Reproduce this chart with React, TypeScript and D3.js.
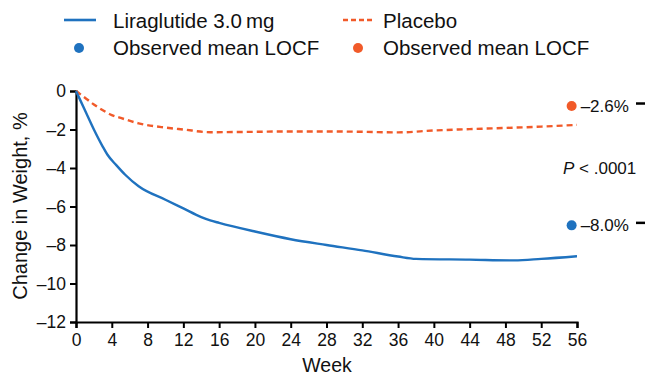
import React, { useEffect, useRef } from "react";
import * as d3 from "d3";

// values (weeks vs % change)
const liraWeeks = [0, 1, 2, 3, 3.5, 4.5, 5.5, 7, 10, 12, 14, 15, 16, 20, 24, 28, 32, 36, 38, 44, 49, 52, 56];
const liraValues = [0, -1.0, -2.0, -2.9, -3.3, -3.85, -4.35, -4.95, -5.65, -6.1, -6.55, -6.72, -6.85, -7.3, -7.7, -8.0, -8.28, -8.6, -8.72, -8.76, -8.8, -8.72, -8.58];
const placeboWeeks = [0, 1, 2, 3, 4, 5, 7, 10, 12, 15, 20, 24, 28, 32, 36, 40, 44, 48, 52, 56];
const placeboValues = [0, -0.35, -0.7, -1.0, -1.25, -1.4, -1.68, -1.9, -2.0, -2.14, -2.12, -2.1, -2.1, -2.12, -2.15, -2.05, -1.98, -1.92, -1.85, -1.76];

const xTicks = [0, 4, 8, 12, 16, 20, 24, 28, 32, 36, 40, 44, 48, 52, 56];
const yTicks = [0, -2, -4, -6, -8, -10, -12];

// observed mean LOCF markers (week, plotted value, label)
const observed = [
  { name: "placebo", week: 55.4, value: -0.78, label: "–2.6%" },
  { name: "lira", week: 55.4, value: -6.98, label: "–8.0%" },
];

const BLUE = "#1f72bf";
const ORANGE = "#f15a29";
const FONT = "'Liberation Sans', Arial, Helvetica, sans-serif";

const Chart = () => {
  const svgRef = useRef<SVGSVGElement>(null);

  useEffect(() => {
    const svg = d3.select(svgRef.current);
    svg.selectAll("*").remove();

    const x = d3.scaleLinear().domain([0, 56]).range([76, 577]);
    const y = d3.scaleLinear().domain([-12, 0]).range([322, 91]);
    const fmt = (d: number) => (d < 0 ? "–" + Math.abs(d) : String(d));

    // axes
    const yAxis = svg.append("g").attr("transform", "translate(76,0)")
      .call(d3.axisLeft(y).tickValues(yTicks).tickSize(6).tickPadding(4).tickFormat(fmt as any));
    const xAxis = svg.append("g").attr("transform", "translate(0,322)")
      .call(d3.axisBottom(x).tickValues(xTicks).tickSize(6).tickPadding(6).tickFormat(fmt as any));
    [xAxis, yAxis].forEach(ax => {
      ax.selectAll("path.domain").attr("stroke", "#000").attr("stroke-width", 2.2);
      ax.selectAll(".tick line").attr("stroke", "#000").attr("stroke-width", 2);
      ax.selectAll(".tick text").attr("font-family", FONT).attr("font-size", 17.5).attr("fill", "#111");
    });

    const line = d3.line<[number, number]>()
      .x(d => x(d[0]))
      .y(d => y(d[1]))
      .curve(d3.curveMonotoneX);

    svg.append("path")
      .datum(placeboWeeks.map((w, i) => [w, placeboValues[i]] as [number, number]))
      .attr("d", line)
      .attr("fill", "none")
      .attr("stroke", ORANGE)
      .attr("stroke-width", 2.4)
      .attr("stroke-dasharray", "6,4");

    svg.append("path")
      .datum(liraWeeks.map((w, i) => [w, liraValues[i]] as [number, number]))
      .attr("d", line)
      .attr("fill", "none")
      .attr("stroke", BLUE)
      .attr("stroke-width", 2.4);

    // observed points + labels
    observed.forEach(o => {
      const cx = x(o.week), cy = y(o.value);
      svg.append("circle").attr("cx", cx).attr("cy", cy).attr("r", 5)
        .attr("fill", o.name === "lira" ? BLUE : ORANGE);
      svg.append("text").attr("x", cx + 9).attr("y", cy + 6)
        .attr("font-family", FONT).attr("font-size", 17).attr("fill", "#111")
        .text(o.label);
      svg.append("line").attr("x1", 636).attr("x2", 645).attr("y1", cy - 2.5).attr("y2", cy - 2.5)
        .attr("stroke", "#000").attr("stroke-width", 2.5);
    });

    const p = svg.append("text").attr("x", 563).attr("y", 174)
      .attr("font-family", FONT).attr("font-size", 17).attr("fill", "#111");
    p.append("tspan").attr("font-style", "italic").text("P");
    p.append("tspan").text(" < .0001");

    // axis titles
    svg.append("text")
      .attr("transform", "translate(27,206) rotate(-90)")
      .attr("text-anchor", "middle")
      .attr("font-family", FONT).attr("font-size", 20).attr("fill", "#111")
      .text("Change in Weight, %");
    svg.append("text").attr("x", 327).attr("y", 372).attr("text-anchor", "middle")
      .attr("font-family", FONT).attr("font-size", 19.5).attr("fill", "#111")
      .text("Week");

    // legend
    const leg = svg.append("g").attr("font-family", FONT).attr("font-size", 20.5).attr("fill", "#111");
    leg.append("line").attr("x1", 64).attr("x2", 96).attr("y1", 20).attr("y2", 20)
      .attr("stroke", BLUE).attr("stroke-width", 2.6);
    leg.append("text").attr("x", 113).attr("y", 28).text("Liraglutide 3.0\u2009mg");
    leg.append("line").attr("x1", 343).attr("x2", 373).attr("y1", 20).attr("y2", 20)
      .attr("stroke", ORANGE).attr("stroke-width", 2.4).attr("stroke-dasharray", "5,3");
    leg.append("text").attr("x", 383).attr("y", 28).text("Placebo");
    leg.append("circle").attr("cx", 79).attr("cy", 48).attr("r", 5).attr("fill", BLUE);
    leg.append("text").attr("x", 113).attr("y", 55).text("Observed mean LOCF");
    leg.append("circle").attr("cx", 358).attr("cy", 48).attr("r", 5).attr("fill", ORANGE);
    leg.append("text").attr("x", 383).attr("y", 55).text("Observed mean LOCF");
  }, []);

  return (
    <svg
      ref={svgRef}
      width={645}
      height={376}
      style={{ position: "fixed", top: 0, left: 0, background: "#fff" }}
    />
  );
};

const App = () => <Chart />;

export default App;
